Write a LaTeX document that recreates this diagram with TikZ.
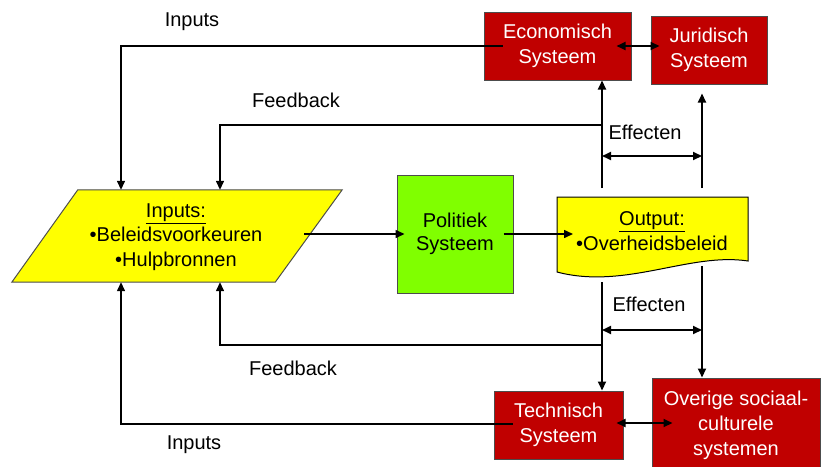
\documentclass[tikz,border=0pt]{standalone}
\usepackage{fontspec}
\setmainfont{Liberation Sans}
\usetikzlibrary{arrows.meta,calc}
\definecolor{boxred}{HTML}{C00000}
\definecolor{boxyellow}{HTML}{FFFF00}
\definecolor{boxgreen}{HTML}{80FF00}
\tikzset{
  redbox/.style={draw=black!70, fill=boxred, text=white, align=center,
    font=\fontsize{20}{25}\selectfont, inner sep=0pt, line width=1pt},
  greenbox/.style={draw=black!70, fill=boxgreen, align=center,
    font=\fontsize{20}{23}\selectfont, inner sep=0pt, line width=1pt},
  lbl/.style={font=\fontsize{20}{24}\selectfont, inner sep=0pt},
  bodytext/.style={align=center, font=\fontsize{20}{24.5}\selectfont, inner sep=0pt},
  tip/.style={-{Triangle[length=9pt,width=8pt]}},
  arrowline/.style={line width=2pt, tip},
  dblarrow/.style={line width=2pt, {Triangle[length=9pt,width=8pt]}-{Triangle[length=9pt,width=8pt]}},
  loopline/.style={line width=1.4pt, tip},
}
\begin{document}
\begin{tikzpicture}[x=1pt,y=-1pt]
\useasboundingbox (0,0) rectangle (824,466);

% parallelogram (inputs)
\node[minimum width=330pt, minimum height=92pt, inner sep=0pt] (inp) at (177,236) {};
\filldraw[fill=boxyellow, draw=black!70, line width=1pt]
  ($(inp.north west)+(66,0)$) -- (inp.north east) -- ($(inp.south east)+(-67,0)$) -- (inp.south west) -- cycle;
\node[bodytext] (inptxt) at (176,237) {\underline{Inputs:}\\•Beleidsvoorkeuren\\•Hulpbronnen};

% politiek systeem
\node[greenbox, minimum width=116pt, minimum height=118pt] (pol) at (455,234) {Politiek\\Systeem};

% output document
\coordinate (outTL) at (557,197);
\coordinate (outTR) at (748,197);
\coordinate (outBR) at (748,261);
\coordinate (outBL) at (557,272);
\filldraw[fill=boxyellow, draw=black, line width=1pt]
  (outTL) -- (outTR) -- (outBR) .. controls (690,252) and (625,290) .. (outBL) -- cycle;
\node[bodytext] (out) at (652,231) {\underline{Output:}\\•Overheidsbeleid};

% red boxes
\node[redbox, minimum width=147pt, minimum height=68pt] (eco) at (557.5,46) {Economisch\\Systeem};
\node[redbox, minimum width=116pt, minimum height=68pt] (jur) at (709,50) {Juridisch\\Systeem};
\node[redbox, minimum width=129pt, minimum height=68pt] (tec) at (558.5,425) {Technisch\\Systeem};
\node[redbox, minimum width=168pt, minimum height=94pt] (ovr) at (736,425) {Overige sociaal-\\culturele\\systemen};

% main flow
\coordinate (inpR) at (304,234);
\draw[line width=1.5pt, tip] (inpR) -- ($(inpR -| pol.west)+(8,0)$);
\draw[line width=1.5pt, tip] ($(pol.east |- inpR)+(-10,0)$) -- ($(inpR -| outTL)+(16,0)$);

% upper effects
\coordinate (uL) at (602,188);
\coordinate (uR) at (702,188);
\draw[arrowline] (uL) -- (uL |- eco.south);
\draw[arrowline] (uR) -- ($(uR |- jur.south)+(0,9)$);
\coordinate (ueL) at (602,156);
\draw[dblarrow] (ueL) -- (ueL -| uR);
\node[lbl] (eff1) at (645,132) {Effecten};
\draw[dblarrow] ($(eco.east |- 0,46)+(-15,0)$) -- ($(jur.west |- 0,46)+(9,0)$);

% upper feedback and inputs
\coordinate (fbU) at (602,125);
\coordinate (fbUc) at (220,125);
\draw[loopline] (fbU) -- (fbUc) -- (fbUc |- inp.north);
\node[lbl] (fb1) at (296,100) {Feedback};
\coordinate (inU) at (121,46);
\draw[loopline] ($(eco.west |- inU)+(19,0)$) -- (inU) -- (inU |- inp.north);
\node[lbl] (in1) at (192,22) {Inputs};

% lower effects
\coordinate (dL) at (602,282);
\coordinate (dR) at (702,266);
\draw[arrowline] (dL) -- (dL |- tec.north);
\draw[arrowline] (dR) -- (dR |- ovr.north);
\coordinate (deL) at (602,330);
\draw[dblarrow] (deL) -- (deL -| dR);
\node[lbl] (eff2) at (649,304) {Effecten};
\draw[dblarrow] ($(tec.east |- 0,423)+(-7,0)$) -- ($(ovr.west |- 0,423)+(21,0)$);

% lower feedback and inputs
\coordinate (fbD) at (602,345);
\coordinate (fbDc) at (220,345);
\draw[loopline] (fbD) -- (fbDc) -- (fbDc |- inp.south);
\node[lbl] (fb2) at (293,368) {Feedback};
\coordinate (inD) at (121,424);
\draw[loopline] ($(tec.west |- inD)+(19,0)$) -- (inD) -- (inD |- inp.south);
\node[lbl] (in2) at (194,445) {Inputs};
\end{tikzpicture}
\end{document}
